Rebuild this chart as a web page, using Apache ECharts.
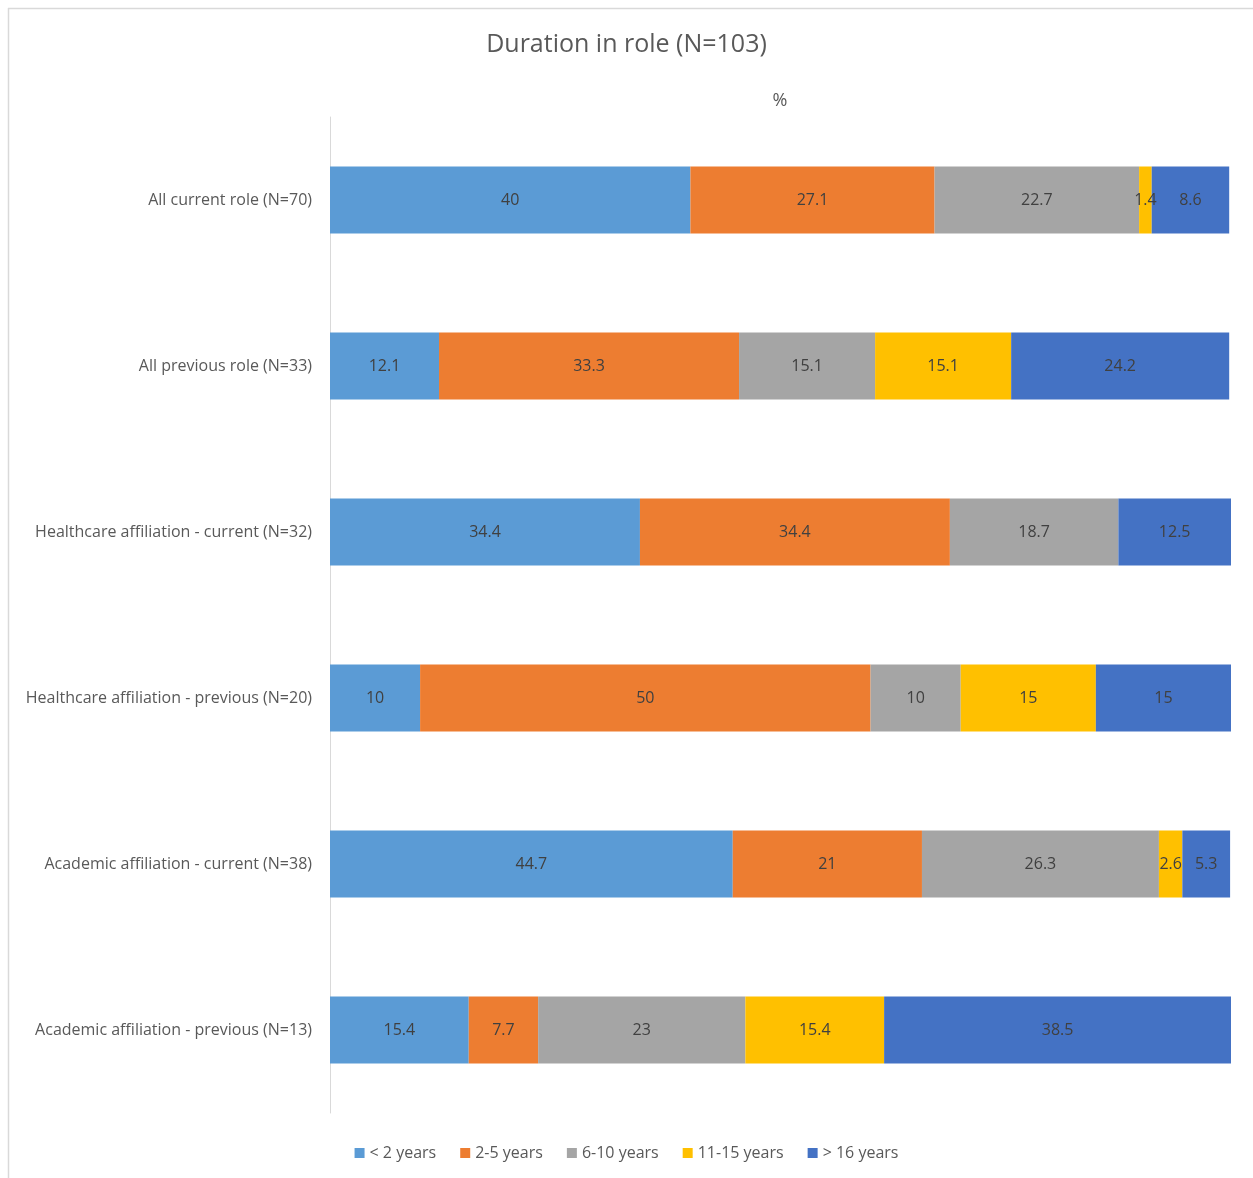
<!DOCTYPE html>
<html><head><meta charset="utf-8">
<script src="https://cdn.jsdelivr.net/npm/echarts@6/dist/echarts.min.js"></script>
<style>html,body{margin:0;padding:0;background:#fff}#c{width:1253px;height:1178px}</style>
</head><body><div id="c"></div>
<script>
const categories = ["All current role (N=70)","All previous role (N=33)","Healthcare affiliation - current (N=32)","Healthcare affiliation - previous (N=20)","Academic affiliation - current (N=38)","Academic affiliation - previous (N=13)"];
const seriesNames = ["< 2 years","2-5 years","6-10 years","11-15 years","> 16 years"];
const lt2 = [40,12.1,34.4,10,44.7,15.4];
const y2to5 = [27.1,33.3,34.4,50,21,7.7];
const y6to10 = [22.7,15.1,18.7,10,26.3,23];
const y11to15 = [1.4,15.1,0,15,2.6,15.4];
const gt16 = [8.6,24.2,12.5,15,5.3,38.5];
const colors = ["#5B9BD5","#ED7D31","#A5A5A5","#FFC000","#4472C4"];
const values = [lt2,y2to5,y6to10,y11to15,gt16];
const font = "Open Sans";
const chart = echarts.init(document.getElementById('c'));
chart.setOption({
  animation:false,
  textStyle:{fontFamily:font},
  title:[
    {text:"Duration in role (N=103)",left:'center',top:27,textStyle:{fontFamily:font,fontSize:25,fontWeight:'normal',color:'#595959'}}
  ],
  legend:{bottom:12,left:'center',itemWidth:10,itemHeight:10,itemGap:24,icon:'rect',textStyle:{fontFamily:font,fontSize:16,color:'#595959'},data:seriesNames},
  grid:{left:330,right:22,top:117,bottom:65},
  xAxis:{type:'value',min:0,max:100,show:false},
  yAxis:{type:'category',data:categories,inverse:true,axisTick:{show:false},axisLine:{lineStyle:{color:'#d9d9d9'}},axisLabel:{fontFamily:font,fontSize:16,color:'#595959',margin:18}},
  graphic:[
    {type:'line',shape:{x1:8,y1:8.5,x2:1253,y2:8.5},style:{stroke:'#d9d9d9',lineWidth:1.5}},
    {type:'line',shape:{x1:8.5,y1:8,x2:8.5,y2:1178},style:{stroke:'#d9d9d9',lineWidth:1.5}},
    {type:'text',x:780,y:101,style:{text:'%',fontFamily:font,fontSize:18,fill:'#595959',textAlign:'center',textVerticalAlign:'middle'}}
  ],
  series:seriesNames.map((n,i)=>({
    name:n,type:'bar',stack:'a',barWidth:67,
    itemStyle:{color:colors[i]},
    label:{show:true,position:'inside',fontFamily:font,fontSize:16,color:'#404040',formatter:p=>p.value?String(p.value):''},
    data:values[i]
  }))
});
</script></body></html>
